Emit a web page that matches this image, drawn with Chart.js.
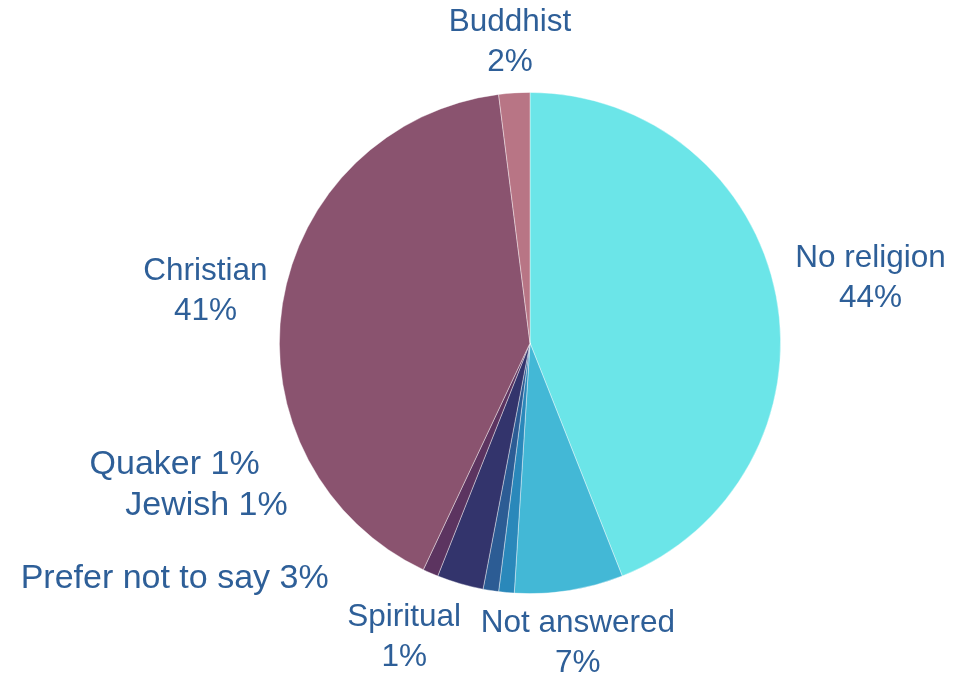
<!DOCTYPE html>
<html>
<head>
<meta charset="utf-8">
<script src="https://cdn.jsdelivr.net/npm/chart.js@4.4.1/dist/chart.umd.min.js"></script>
<style>
  html, body { margin: 0; padding: 0; background: #fff; }
  #wrap { width: 964px; height: 681px; }
</style>
</head>
<body>
<div id="wrap"><canvas id="chart"></canvas></div>
<script>
// data
const categories = ['No religion', 'Not answered', 'Spiritual', 'Jewish', 'Prefer not to say', 'Quaker', 'Christian', 'Buddhist'];
const shares = [44, 7, 1, 1, 3, 1, 41, 2];
const sliceColors = ['#6be5e8', '#43b8d6', '#2a88ba', '#2c5c94', '#33346c', '#5c3460', '#8a536f', '#b87585'];

// label placement, relative to pie centre in units of radius
const labelOffsets = [
    [1.359, -0.259], [0.191, 1.199], [-0.502, 1.175], [-1.291, 0.649],
    [-1.418, 0.940], [-1.418, 0.486], [-1.295, -0.207], [-0.080, -1.199]
];
const singleLine = [false, false, false, true, true, true, false, false];

const labelPlugin = {
    id: 'sliceLabels',
    afterDraw(chart) {
        const ctx = chart.ctx;
        const arcs = chart.getDatasetMeta(0).data;
        ctx.save();
        ctx.fillStyle = '#2e5f98';
        ctx.textAlign = 'center';
        ctx.textBaseline = 'middle';
        arcs.forEach((arc, i) => {
            const r = arc.outerRadius;
            const x = arc.x + labelOffsets[i][0] * r;
            const y = arc.y + labelOffsets[i][1] * r;
            const pct = shares[i] + '%';
            if (singleLine[i]) {
                ctx.font = '34px "Liberation Sans", Arial, sans-serif';
                ctx.fillText(categories[i] + ' ' + pct, x, y);
            } else {
                ctx.font = '31.5px "Liberation Sans", Arial, sans-serif';
                ctx.fillText(categories[i], x, y - 20);
                ctx.fillText(pct, x, y + 20);
            }
        });
        ctx.restore();
    }
};

new Chart(document.getElementById('chart'), {
    type: 'pie',
    data: {
        labels: categories,
        datasets: [{
            data: shares,
            backgroundColor: sliceColors,
            borderColor: 'rgba(255,255,255,0.5)',
            borderWidth: 0.8
        }]
    },
    options: {
        responsive: true,
        maintainAspectRatio: false,
        animation: false,
        layout: { padding: { top: 92, bottom: 87, left: 279, right: 183 } },
        plugins: {
            legend: { display: false },
            tooltip: { enabled: false }
        }
    },
    plugins: [labelPlugin]
});
</script>
</body>
</html>
